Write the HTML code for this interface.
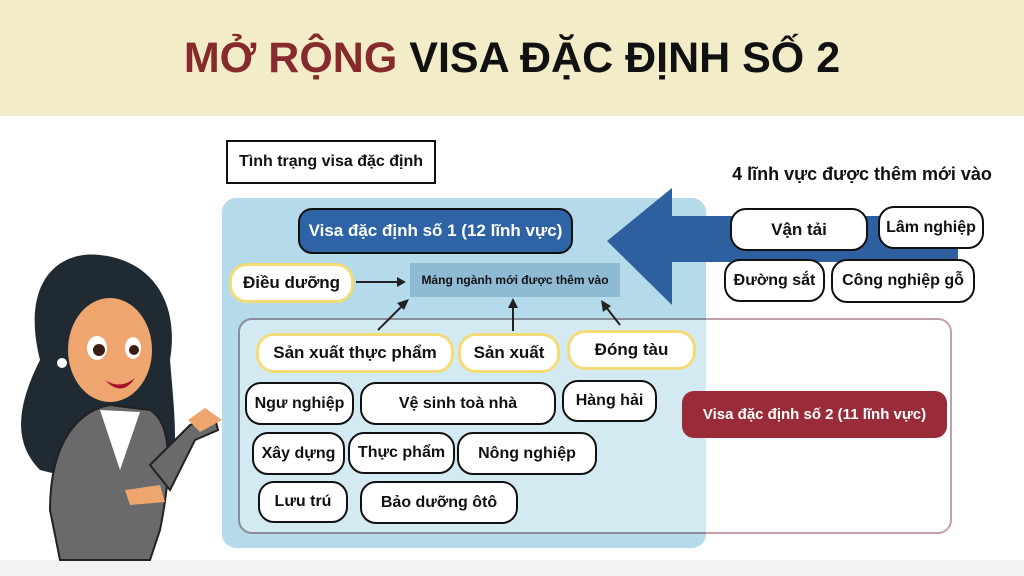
<!DOCTYPE html>
<html><head><meta charset="utf-8"><style>
body{margin:0;width:1024px;height:576px;position:relative;overflow:hidden;background:#fff;font-family:"Liberation Sans",sans-serif;}
.a{position:absolute;box-sizing:border-box;display:flex;align-items:center;justify-content:center;font-weight:bold;color:#111;white-space:nowrap;}
.p{background:#fff;border:2.5px solid #111;border-radius:16px;font-size:16px;}
.y{background:#fff;border:3px solid #f3dc78;border-radius:18px;font-size:17px;}
</style></head><body>
<div style="position:absolute;left:0;top:0;width:1024px;height:116px;background:#f3ecc8"></div>
<div class="a" style="left:0;top:30px;width:1024px;height:56px;font-size:43px;"><span style="color:#862a2e">MỞ RỘNG</span>&nbsp;VISA ĐẶC ĐỊNH SỐ 2</div>
<div style="position:absolute;left:0;top:560px;width:1024px;height:16px;background:#f2f2f2"></div>
<div style="position:absolute;left:222px;top:198px;width:484px;height:350px;background:#b5dbeb;border-radius:14px"></div>
<div style="position:absolute;left:238px;top:318px;width:714px;height:216px;border:2px solid #c2a0a8;border-radius:14px;box-sizing:border-box"></div>
<div style="position:absolute;left:238px;top:318px;width:468px;height:216px;background:#d4eaf3;border-radius:14px 0 0 14px;border-left:2px solid #8a8c9c;border-top:2px solid #8a8c9c;border-bottom:2px solid #8a8c9c;box-sizing:border-box"></div>
<svg style="position:absolute;left:0;top:0" width="1024" height="576">
<polygon points="607,241 672,188 672,216 958,216 958,262 672,262 672,305" fill="#2e5f9e"/>
<g stroke="#222" stroke-width="2" fill="#222">
<line x1="356" y1="282" x2="398" y2="282"/><polygon points="406,282 397,277 397,287" stroke="none"/>
<line x1="378" y1="330" x2="402" y2="306"/><polygon points="409,299 397,303 404,310" stroke="none"/>
<line x1="513" y1="331" x2="513" y2="306"/><polygon points="513,298 508,308 518,308" stroke="none"/>
<line x1="620" y1="325" x2="606" y2="307"/><polygon points="601,300 603,312 611,306" stroke="none"/>
</g></svg>
<div class="a" style="left:226px;top:140px;width:210px;height:44px;border:2.5px solid #111;font-size:16px;background:#fff">Tình trạng visa đặc định</div>
<div class="a" style="left:298px;top:208px;width:275px;height:46px;background:#2e63a6;border:2.5px solid #111;border-radius:14px;color:#fff;font-size:17px">Visa đặc định số 1 (12 lĩnh vực)</div>
<div class="a" style="left:410px;top:263px;width:210px;height:34px;background:#8fbad4;font-size:12px">Mảng ngành mới được thêm vào</div>
<div class="a y" style="left:229px;top:263px;width:125px;height:40px">Điều dưỡng</div>
<div class="a y" style="left:256px;top:333px;width:198px;height:40px">Sản xuất thực phẩm</div>
<div class="a y" style="left:458px;top:333px;width:102px;height:40px">Sản xuất</div>
<div class="a y" style="left:567px;top:330px;width:129px;height:40px">Đóng tàu</div>
<div class="a p" style="left:245px;top:382px;width:109px;height:43px">Ngư nghiệp</div>
<div class="a p" style="left:360px;top:382px;width:196px;height:43px">Vệ sinh toà nhà</div>
<div class="a p" style="left:562px;top:380px;width:95px;height:42px">Hàng hải</div>
<div class="a p" style="left:252px;top:432px;width:93px;height:43px">Xây dựng</div>
<div class="a p" style="left:348px;top:432px;width:107px;height:42px">Thực phẩm</div>
<div class="a p" style="left:457px;top:432px;width:140px;height:43px">Nông nghiệp</div>
<div class="a p" style="left:258px;top:481px;width:90px;height:42px">Lưu trú</div>
<div class="a p" style="left:360px;top:481px;width:158px;height:43px">Bảo dưỡng ôtô</div>
<div class="a" style="left:712px;top:160px;width:300px;height:28px;font-size:18px">4 lĩnh vực được thêm mới vào</div>
<div class="a p" style="left:730px;top:208px;width:138px;height:43px;font-size:17px">Vận tải</div>
<div class="a p" style="left:878px;top:206px;width:106px;height:43px">Lâm nghiệp</div>
<div class="a p" style="left:724px;top:259px;width:101px;height:43px">Đường sắt</div>
<div class="a p" style="left:831px;top:259px;width:144px;height:44px">Công nghiệp gỗ</div>
<div class="a" style="left:682px;top:391px;width:265px;height:47px;background:#9a2c3a;border-radius:12px;color:#fff;font-size:15px">Visa đặc định số 2 (11 lĩnh vực)</div>
<svg style="position:absolute;left:0;top:240px" width="230" height="330">
<path d="M40,120 C20,40 60,10 100,15 C150,20 180,60 170,120 C175,180 180,220 165,250 L120,250 L40,230 C10,200 20,160 40,120Z" fill="#1f2a33"/>
<path d="M50,270 C50,200 80,170 110,165 L150,170 C175,185 170,240 160,290 L150,320 L60,320Z" fill="#6a6a6c" stroke="#222" stroke-width="2"/>
<path d="M100,170 L120,230 L140,172Z" fill="#fff"/>
<ellipse cx="110" cy="110" rx="42" ry="52" fill="#eea66e"/>
<path d="M65,70 C90,40 140,45 155,80 L150,60 C130,30 80,35 65,70Z" fill="#1f2a33"/>
<ellipse cx="97" cy="108" rx="10" ry="12" fill="#fff"/><circle cx="99" cy="110" r="6" fill="#3a1d10"/>
<ellipse cx="133" cy="108" rx="8" ry="11" fill="#fff"/><circle cx="134" cy="110" r="5" fill="#3a1d10"/>
<path d="M105,140 Q120,150 135,138 Q122,158 105,140Z" fill="#a5122a"/>
<circle cx="62" cy="123" r="5" fill="#fff"/>
<path d="M150,225 L190,185 L215,178 L218,190 L195,200 L170,250Z" fill="#6a6a6c" stroke="#222" stroke-width="2"/>
<path d="M188,180 L205,168 L222,180 L200,192Z" fill="#eea66e"/>
<path d="M125,250 L160,245 L165,262 L130,265Z" fill="#eea66e"/>
</svg>
</body></html>
